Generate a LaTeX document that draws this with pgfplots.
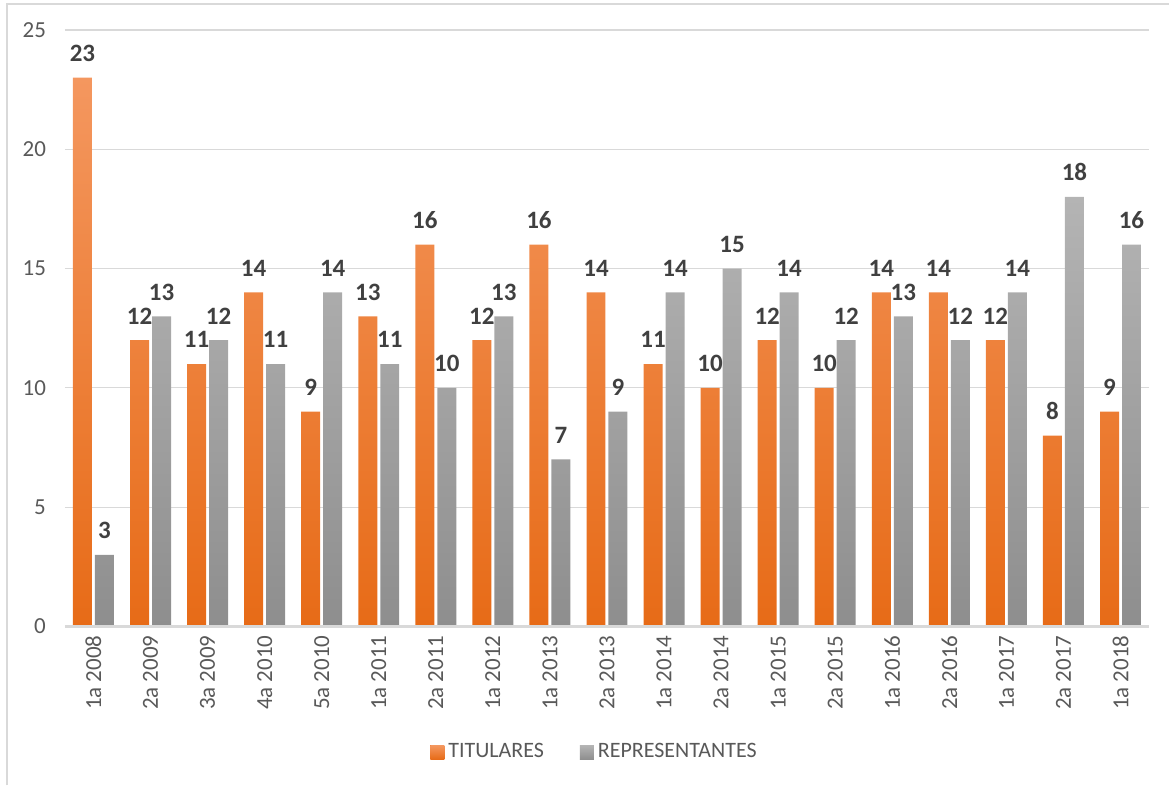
\documentclass[border=0pt]{standalone}
\usepackage{pgfplots}
\pgfplotsset{compat=1.18}
\usepackage{fontspec}
\setmainfont{Carlito}
\definecolor{tickgray}{HTML}{595959}
\definecolor{gridgray}{HTML}{D9D9D9}
\definecolor{lblgray}{HTML}{404040}
\definecolor{orTop}{HTML}{F4975F}
\definecolor{orBot}{HTML}{E76B17}
\definecolor{grTop}{HTML}{B4B4B4}
\definecolor{grBot}{HTML}{8E8E8E}
\begin{document}
\begin{tikzpicture}
\path (-32.5pt,-79.5pt) rectangle (552.5pt,313.5pt);
\draw[gridgray, line width=1pt] (-29pt,-79.5pt) -- (-29pt,311.5pt) -- (552.5pt,311.5pt);
\begin{axis}[
  at={(0,0)}, anchor=south west,
  scale only axis, width=542.5pt, height=298.5pt,
  ymin=0, ymax=25, ytick={0,5,...,25},
  xmin=-0.5, xmax=18.5,
  xtick={0,...,18},
  xticklabels={1a 2008,2a 2009,3a 2009,4a 2010,5a 2010,1a 2011,2a 2011,1a 2012,1a 2013,2a 2013,1a 2014,2a 2014,1a 2015,2a 2015,1a 2016,2a 2016,1a 2017,2a 2017,1a 2018},
  xticklabel style={rotate=90, anchor=east, font=\fontsize{11.5}{13}\selectfont, text=tickgray, xshift=-1pt},
  yticklabel style={font=\fontsize{11.5}{13}\selectfont, text=tickgray, xshift=-6pt},
  /pgf/number format/assume math mode=true,
  major tick length=0pt,
  axis x line*=bottom, axis y line*=left,
  x axis line style={draw=none}, y axis line style={draw=none},
  ymajorgrids, grid style={gridgray, line width=0.6pt},
  ybar, bar width=9.5pt,
  nodes near coords,
  nodes near coords style={font=\bfseries\fontsize{12.5}{14}\selectfont, text=lblgray, anchor=south, yshift=4.5pt},
  legend style={at={(265.5pt,-63pt)}, anchor=center, draw=none, legend columns=2,
    font=\fontsize{11}{13}\selectfont, text=tickgray,
    /tikz/every even column/.append style={column sep=16pt}},
  clip=false,
]
\addplot[draw=none, top color=orTop, bottom color=orBot, bar shift=-5.5pt, legend image code/.code={\fill[orBot!90!orTop] (0pt,-3.5pt) rectangle (7pt,3.5pt);}] coordinates {
(0,23)(1,12)(2,11)(3,14)(4,9)(5,13)(6,16)(7,12)(8,16)(9,14)(10,11)(11,10)(12,12)(13,10)(14,14)(15,14)(16,12)(17,8)(18,9)};
\addplot[draw=none, top color=grTop, bottom color=grBot, bar shift=5.5pt, legend image code/.code={\fill[grTop!60!grBot] (0pt,-3.5pt) rectangle (7pt,3.5pt);}] coordinates {
(0,3)(1,13)(2,12)(3,11)(4,14)(5,11)(6,10)(7,13)(8,7)(9,9)(10,14)(11,15)(12,14)(13,12)(14,13)(15,12)(16,14)(17,18)(18,16)};
\legend{TITULARES, REPRESENTANTES}
\draw[gridgray, line width=1.2pt] (axis cs:-0.5,0) -- (axis cs:18.5,0);
\end{axis}
\end{tikzpicture}
\end{document}
